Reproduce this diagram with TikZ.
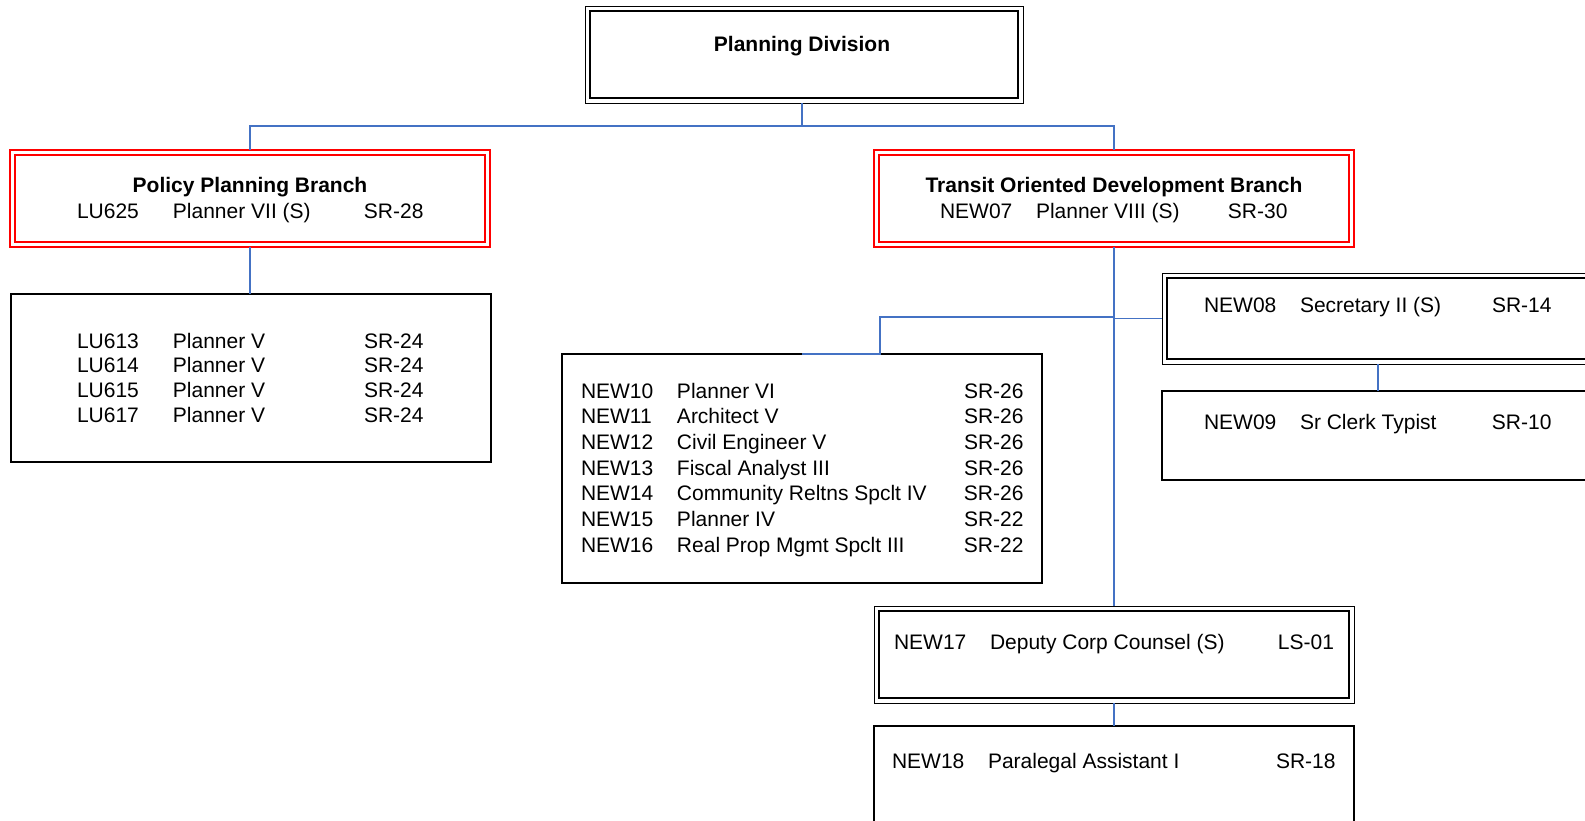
\documentclass[tikz,border=0pt]{standalone}
\usepackage{fontspec}
\setmainfont{Liberation Sans}
\usepackage{xcolor}
\definecolor{linkblue}{RGB}{68,114,196}
\definecolor{boxred}{RGB}{255,0,0}
\newcommand{\postab}[2]{\begin{tabular}[t]{@{}p{96pt}@{}p{#1}@{}l@{}}#2\end{tabular}}

\begin{document}
\begin{tikzpicture}[x=1pt,y=-1pt,
every node/.style={inner sep=0pt,outer sep=0pt,font=\fontsize{21}{25.7}\selectfont},
titlefont/.style={font=\fontsize{21}{25.7}\selectfont\bfseries},
box/.style={draw=black,line width=1.1pt},
dblbox/.style={draw=black,line width=1pt},
dblinner/.style={draw=black,line width=1.8pt},
redbox/.style={draw=boxred,line width=1.2pt},
redinner/.style={draw=boxred,line width=1.2pt},
link/.style={draw=linkblue,line width=1.5pt}]
\useasboundingbox (0,0) rectangle (1585,820);
% boxes
\node[dblbox,minimum width=438pt,minimum height=97pt] (pd) at (804,54.5) {};
\draw[dblinner] ([shift={(5,5)}]pd.north west) rectangle ([shift={(-5,-5)}]pd.south east);
\node[redbox,minimum width=480pt,minimum height=97pt] (ppb) at (250,198.5) {};
\draw[redinner] ([shift={(5,5)}]ppb.north west) rectangle ([shift={(-5,-5)}]ppb.south east);
\node[redbox,minimum width=480pt,minimum height=97pt] (todb) at (1114,198.5) {};
\draw[redinner] ([shift={(5,5)}]todb.north west) rectangle ([shift={(-5,-5)}]todb.south east);
\node[box,minimum width=480pt,minimum height=168pt] (lu) at (251,378) {};
\node[box,minimum width=480pt,minimum height=229pt] (nw) at (802,468.5) {};
\node[dblbox,minimum width=432pt,minimum height=91pt] (sec) at (1378,318.5) {};
\draw[dblinner] ([shift={(5,5)}]sec.north west) rectangle ([shift={(-5,-5)}]sec.south east);
\node[box,minimum width=432pt,minimum height=89pt] (clerk) at (1378,435.5) {};
\node[dblbox,minimum width=480pt,minimum height=97pt] (dcc) at (1114,654.5) {};
\draw[dblinner] ([shift={(5,5)}]dcc.north west) rectangle ([shift={(-5,-5)}]dcc.south east);
\node[box,minimum width=480pt,minimum height=110pt] (para) at (1114,781) {};
% texts
\node[titlefont,anchor=base] (pdt) at (802,51) {Planning Division};
\node[titlefont,anchor=base] (ppbt) at (250,192) {Policy Planning Branch};
\node[anchor=base west] (ppbr) at (77,218) {\postab{191pt}{LU625 & Planner VII (S) & SR-28}};
\node[titlefont,anchor=base] (todbt) at (1114,192) {Transit Oriented Development Branch};
\node[anchor=base west] (todbr) at (940,218) {\postab{192pt}{NEW07 & Planner VIII (S) & SR-30}};
\node[anchor=base west,font=\fontsize{21}{24.7}\selectfont] (lur) at (77,348) {\postab{191pt}{%
LU613 & Planner V & SR-24\\
LU614 & Planner V & SR-24\\
LU615 & Planner V & SR-24\\
LU617 & Planner V & SR-24}};
\node[anchor=base west] (nwr) at (581,398) {\postab{287pt}{%
NEW10 & Planner VI & SR-26\\
NEW11 & Architect V & SR-26\\
NEW12 & Civil Engineer V & SR-26\\
NEW13 & Fiscal Analyst III & SR-26\\
NEW14 & Community Reltns Spclt IV & SR-26\\
NEW15 & Planner IV & SR-22\\
NEW16 & Real Prop Mgmt Spclt III & SR-22}};
\node[anchor=base west] (secr) at (1204,312) {\postab{192pt}{NEW08 & Secretary II (S) & SR-14}};
\node[anchor=base west] (clerkr) at (1204,429) {\postab{192pt}{NEW09 & Sr Clerk Typist & SR-10}};
\node[anchor=base west] (dccr) at (894,649) {\postab{288pt}{NEW17 & Deputy Corp Counsel (S) & LS-01}};
\node[anchor=base west] (parar) at (892,768) {\postab{288pt}{NEW18 & Paralegal Assistant I & SR-18}};
% connectors
\coordinate (hub) at (802,126);
\coordinate (tap) at (1114,317);
\draw[link] (hub |- pd.south) -- (hub);
\draw[link] (ppb.north) |- (hub) -| (todb.north);
\draw[link] (ppb.south) -- (ppb.south |- lu.north);
\draw[link] (todb.south) -- (dcc.north);
\draw[link] (nw.north) -- ++(78,0) |- (tap);
\draw[link] (tap |- sec.west) -- (sec.west);
\draw[link] (sec.south) -- (clerk.north);
\draw[link] (dcc.south) -- (para.north);
\end{tikzpicture}
\end{document}
